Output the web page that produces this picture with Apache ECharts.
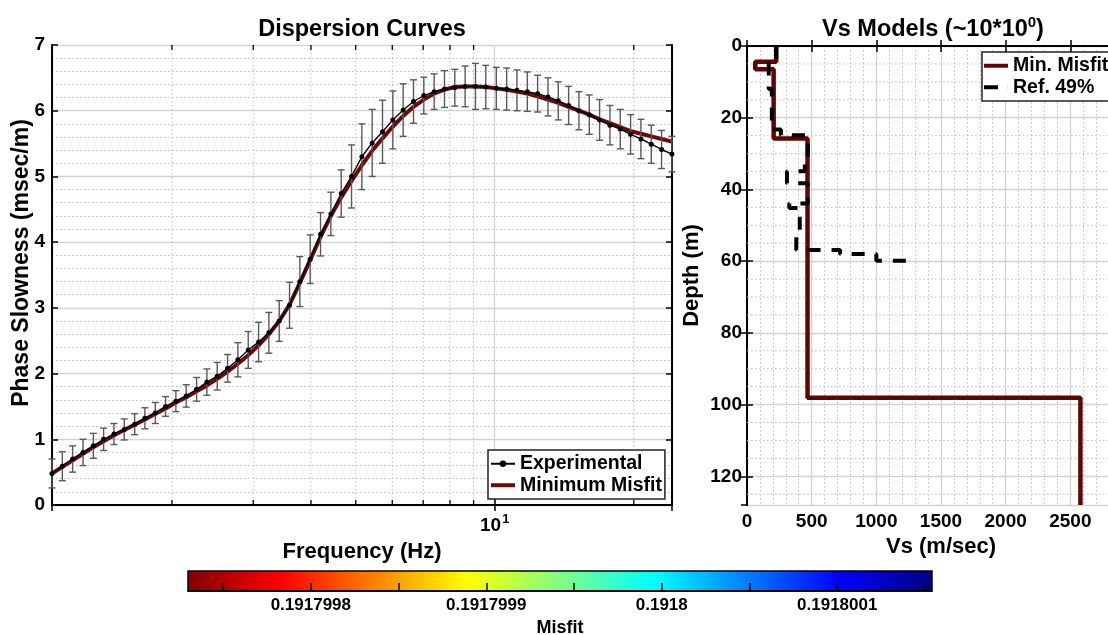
<!DOCTYPE html>
<html><head><meta charset="utf-8">
<script src="https://cdn.jsdelivr.net/npm/echarts@6/dist/echarts.min.js"></script>
<style>html,body{margin:0;padding:0;background:#fff}#c{width:1108px;height:635px}</style>
</head><body><div id="c"></div>
<script>
// ---------- data ----------
const freq = [1.100,1.158,1.219,1.284,1.352,1.423,1.498,1.577,1.661,1.748,1.841,1.938,2.040,2.148,2.262,2.381,2.507,2.640,2.779,2.926,3.081,3.243,3.415,3.595,3.785,3.985,4.196,4.418,4.651,4.897,5.156,5.428,5.715,6.017,6.335,6.670,7.022,7.393,7.784,8.195,8.628,9.084,9.564,10.079,10.612,11.172,11.763,12.384,13.039,13.728,14.454,15.217,16.022,16.868,17.760,18.698,19.686,20.727,21.822,22.975,24.190];
const slowExp = [0.48,0.59,0.70,0.80,0.90,1.00,1.08,1.15,1.23,1.32,1.40,1.50,1.58,1.66,1.76,1.87,1.96,2.08,2.21,2.36,2.48,2.62,2.80,3.04,3.40,3.74,4.12,4.43,4.74,5.00,5.30,5.51,5.68,5.86,6.01,6.14,6.23,6.29,6.33,6.35,6.37,6.37,6.36,6.34,6.33,6.31,6.29,6.26,6.21,6.15,6.08,6.00,5.94,5.86,5.78,5.72,5.64,5.57,5.49,5.41,5.34];
const slowErr = [0.22,0.22,0.20,0.20,0.19,0.17,0.16,0.16,0.16,0.16,0.16,0.15,0.16,0.17,0.18,0.20,0.21,0.21,0.26,0.28,0.30,0.31,0.31,0.35,0.38,0.37,0.33,0.33,0.36,0.48,0.50,0.51,0.48,0.44,0.40,0.33,0.28,0.27,0.28,0.28,0.31,0.35,0.33,0.32,0.32,0.31,0.30,0.28,0.29,0.29,0.29,0.29,0.30,0.31,0.30,0.30,0.30,0.30,0.29,0.29,0.27];
const slowFit = [0.48,0.58,0.68,0.78,0.88,0.97,1.06,1.14,1.22,1.30,1.39,1.47,1.56,1.64,1.73,1.82,1.92,2.03,2.15,2.28,2.43,2.60,2.80,3.05,3.38,3.73,4.08,4.40,4.68,4.93,5.17,5.39,5.58,5.76,5.92,6.06,6.17,6.26,6.32,6.36,6.37,6.37,6.36,6.34,6.32,6.29,6.26,6.22,6.17,6.12,6.06,6.00,5.94,5.87,5.81,5.75,5.69,5.65,5.61,5.57,5.53];
const freqMinorGrid = [2,3,4,5,6,7,8,9,20];

const fitTop = [0, 4.4, 6.5, 25.8, 98.1];
const fitVs  = [226, 64, 206, 468, 2578];
const fitBottom = 128;
const refTop = [0, 4.5, 12, 21.5, 23.3, 24.9, 31.5, 34.9, 38.3, 43.9, 45.2, 51.5, 56.9, 58.0, 59.9];
const refVs  = [226, 168, 192, 215, 262, 470, 447, 309, 470, 327, 408, 381, 720, 1000, 1260];
const refBottom = 61.6;
const depthMinorGrid = [5,10,15,25,30,35,45,50,55,65,70,75,85,90,95,105,110,115,125];

const misfitMin = 0.19179973, misfitMax = 0.191800154;
const misfitTicks = [0.19179975,0.1917998,0.19179985,0.1917999,0.19179995,0.1918,0.19180005,0.1918001,0.19180015];
const misfitLabels = [0.1917998,0.1917999,0.1918,0.1918001];

// ---------- helpers ----------
function steps(tops, vs, bottom){
  const pts=[];
  for(let i=0;i<tops.length;i++){
    pts.push([vs[i], tops[i]]);
    pts.push([vs[i], i<tops.length-1 ? tops[i+1] : bottom]);
  }
  return pts;
}
const FONT = '"Liberation Sans", Arial, Helvetica, sans-serif';
const AX = {show:true, lineStyle:{color:'#000', width:2}};
const TICK = {show:true, inside:true, length:6, lineStyle:{color:'#000', width:1.5}};
const LAB = {color:'#000', fontWeight:'bold', fontSize:19, fontFamily:FONT};
const NAME = {color:'#000', fontWeight:'bold', fontSize:22, fontFamily:FONT};
const MAJ = {show:true, lineStyle:{color:'#d2d2d2', width:1.3}};
const MIN = {show:true, lineStyle:{color:'#bdbdbd', width:1, type:[1.5,2.5]}};
const LEGTXT = {color:'#000', fontWeight:'bold', fontSize:19.5, fontFamily:FONT, lineHeight:21.5};
const ICON_LINE = 'path://M0,0h24v4h-24Z';
const ICON_DASH = 'path://M0,0h14v4h-14Z M23.9,0h0.1v4h-0.1Z';

const chart = echarts.init(document.getElementById('c'));
const jet = new echarts.graphic.LinearGradient(0,0,1,0,[
  {offset:0,color:'#800000'},{offset:0.125,color:'#ff0000'},{offset:0.375,color:'#ffff00'},
  {offset:0.625,color:'#00ffff'},{offset:0.875,color:'#0000ff'},{offset:1,color:'#000080'}]);

const option = {
  animation:false,
  backgroundColor:'#fff',
  textStyle:{fontFamily:FONT},
  graphic:[
    {type:'text', x:362, y:30, style:{text:'Dispersion Curves', font:'bold 23.5px '+FONT, fill:'#000', align:'center', verticalAlign:'middle'}},
    {type:'text', x:933, y:30, style:{text:'{a|Vs Models (~10*10}{s|0}{a|)}', align:'center', verticalAlign:'middle', fill:'#000',
      rich:{a:{font:'bold 23.5px '+FONT, fill:'#000'}, s:{font:'bold 15px '+FONT, fill:'#000', padding:[0,0,14,0]}}}},
    {type:'text', x:22, y:263, rotation:Math.PI/2, style:{text:'Phase Slowness (msec/m)', font:'bold 23px '+FONT, fill:'#000', align:'center', verticalAlign:'middle'}}
  ],
  grid:[
    {left:52, right:436, top:45, bottom:130, outerBoundsMode:'none'},
    {left:747, right:-27, top:46, bottom:130, outerBoundsMode:'none'},
    {left:188, right:176, top:571, bottom:44, outerBoundsMode:'none'}
  ],
  legend:[
    {data:[{name:'Experimental'},{name:'Minimum Misfit', icon:ICON_LINE}], orient:'vertical', left:488, top:450, itemWidth:24, itemHeight:8, itemGap:0,
     padding:[3,3,3,2], borderColor:'#222', borderWidth:1.5, backgroundColor:'#fff', selectedMode:false, textStyle:LEGTXT},
    {data:[{name:'Min. Misfit', icon:ICON_LINE},{name:'Ref. 49%', icon:ICON_DASH}], orient:'vertical', left:982, top:52, itemWidth:24, itemHeight:8, itemGap:0,
     padding:[3,6,3,2], borderColor:'#222', borderWidth:1.5, backgroundColor:'#fff', selectedMode:false, textStyle:LEGTXT}
  ],
  xAxis:[
    {type:'log', logBase:10, gridIndex:0, min:1.1, max:24.2, position:'bottom', axisLine:AX, axisTick:TICK,
     axisLabel:{margin:8, formatter:v=> Math.abs(v-10)<0.01 ? '{a|10}{s|1}' : '',
       rich:{a:{fontWeight:'bold', fontSize:19, fontFamily:FONT, color:'#000'}, s:{fontWeight:'bold', fontSize:13, fontFamily:FONT, color:'#000', padding:[0,0,12,1]}}},
     splitLine:MAJ, name:'Frequency (Hz)', nameLocation:'middle', nameGap:36, nameTextStyle:NAME, nameMoveOverlap:false},
    {type:'log', logBase:10, gridIndex:0, min:1.1, max:24.2, position:'top', axisLine:AX, axisTick:TICK, axisLabel:{show:false}, splitLine:{show:false}},
    {type:'value', gridIndex:1, min:0, max:3000, interval:500, position:'bottom', axisLine:AX, axisTick:TICK,
     axisLabel:Object.assign({margin:7, formatter:v=>String(v)}, LAB), splitLine:MAJ, minorTick:{show:false, splitNumber:5}, minorSplitLine:MIN,
     name:'Vs (m/sec)', nameLocation:'middle', nameGap:31, nameTextStyle:NAME, nameMoveOverlap:false},
    {type:'value', gridIndex:1, min:0, max:3000, interval:500, position:'top', axisLine:AX, axisTick:TICK, axisLabel:{show:false}, splitLine:{show:false}},
    {type:'value', gridIndex:2, min:misfitMin, max:misfitMax, position:'bottom', z:10, axisLine:{show:true, lineStyle:{color:'#000', width:1.5}},
     axisTick:{show:true, inside:true, length:8, lineStyle:{color:'#000', width:1.5}, customValues:misfitTicks},
     axisLabel:{customValues:misfitLabels, margin:6, color:'#000', fontWeight:'bold', fontSize:17, fontFamily:FONT, formatter:v=>String(+(+v).toPrecision(7))},
     splitLine:{show:false}, name:'Misfit', nameLocation:'middle', nameGap:28, nameTextStyle:{color:'#000', fontWeight:'bold', fontSize:18, fontFamily:FONT}, nameMoveOverlap:false}
  ],
  yAxis:[
    {type:'value', gridIndex:0, min:0, max:7, interval:1, position:'left', axisLine:AX, axisTick:TICK, axisLabel:Object.assign({margin:7}, LAB),
     splitLine:MAJ, minorTick:{show:false, splitNumber:5}, minorSplitLine:MIN},
    {type:'value', gridIndex:0, min:0, max:7, interval:1, position:'right', axisLine:AX, axisTick:TICK, axisLabel:{show:false}, splitLine:{show:false}},
    {type:'value', gridIndex:1, min:0, max:128, interval:20, inverse:true, position:'left', axisLine:AX, axisTick:TICK,
     axisLabel:Object.assign({margin:5, showMaxLabel:false}, LAB), splitLine:MAJ,
     name:'Depth (m)', nameLocation:'middle', nameGap:44, nameTextStyle:NAME, nameMoveOverlap:false},
    {type:'value', gridIndex:1, min:0, max:128, interval:20, inverse:true, position:'right', axisLine:AX, axisTick:TICK, axisLabel:{show:false}, splitLine:{show:false}},
    {type:'value', gridIndex:2, min:0, max:1, show:false}
  ],
  series:[
    {type:'custom', xAxisIndex:0, yAxisIndex:0, z:1, silent:true, data:freqMinorGrid.map(v=>[v,0]), encode:{x:0,y:1},
     renderItem:function(params, api){
       const cs = params.coordSys; const x = api.coord([api.value(0), 0])[0];
       return {type:'group', children:[
         {type:'line', shape:{x1:x,y1:cs.y,x2:x,y2:cs.y+cs.height}, style:{stroke:'#bdbdbd', lineWidth:1, lineDash:[1.5,2.5]}},
         {type:'line', shape:{x1:x,y1:cs.y+cs.height,x2:x,y2:cs.y+cs.height-5}, style:{stroke:'#000', lineWidth:1.3}},
         {type:'line', shape:{x1:x,y1:cs.y,x2:x,y2:cs.y+5}, style:{stroke:'#000', lineWidth:1.3}}]};
     }},
    {name:'Minimum Misfit', type:'line', xAxisIndex:0, yAxisIndex:0, z:2, symbol:'none',
     data:freq.map((f,i)=>[f, slowFit[i]]), lineStyle:{color:'#6d0808', width:4}, itemStyle:{color:'#6d0808'}},
    {type:'custom', xAxisIndex:0, yAxisIndex:0, z:3, silent:true,
     data:freq.map((f,i)=>[f, slowExp[i]-slowErr[i], slowExp[i]+slowErr[i]]), encode:{x:0, y:[1,2]},
     renderItem:function(params, api){
       const t = api.coord([api.value(0), api.value(2)]); const b = api.coord([api.value(0), api.value(1)]);
       const c = 3.5, st = {stroke:'#595959', lineWidth:1.4};
       return {type:'group', children:[
         {type:'line', shape:{x1:t[0],y1:t[1],x2:b[0],y2:b[1]}, style:st},
         {type:'line', shape:{x1:t[0]-c,y1:t[1],x2:t[0]+c,y2:t[1]}, style:st},
         {type:'line', shape:{x1:b[0]-c,y1:b[1],x2:b[0]+c,y2:b[1]}, style:st}]};
     }},
    {name:'Experimental', type:'line', xAxisIndex:0, yAxisIndex:0, z:4, symbol:'circle', symbolSize:5, showAllSymbol:true,
     data:freq.map((f,i)=>[f, slowExp[i]]), lineStyle:{color:'#000', width:1.4}, itemStyle:{color:'#000'}},
    {type:'custom', xAxisIndex:2, yAxisIndex:2, z:1, silent:true, data:depthMinorGrid.map(d=>[0,d]), encode:{x:0,y:1},
     renderItem:function(params, api){
       const cs = params.coordSys; const y = api.coord([0, api.value(1)])[1];
       return {type:'line', shape:{x1:cs.x,y1:y,x2:cs.x+cs.width,y2:y}, style:{stroke:'#bdbdbd', lineWidth:1, lineDash:[1.5,2.5]}};
     }},
    {name:'Min. Misfit', type:'line', xAxisIndex:2, yAxisIndex:2, z:3, symbol:'none',
     data:steps(fitTop, fitVs, fitBottom), lineStyle:{color:'#5e0606', width:4.5}, itemStyle:{color:'#5e0606'}},
    {name:'Ref. 49%', type:'line', xAxisIndex:2, yAxisIndex:2, z:4, symbol:'none',
     data:steps(refTop, refVs, refBottom), lineStyle:{color:'#000', width:4, type:[13,11], cap:'butt'}, itemStyle:{color:'#000'}},
    {type:'custom', xAxisIndex:4, yAxisIndex:4, z:2, silent:true, data:[[misfitMin,0]], encode:{x:0,y:1},
     renderItem:function(params, api){
       const p0 = api.coord([misfitMin, 0]), p1 = api.coord([misfitMax, 1]);
       return {type:'rect', shape:{x:p0[0], y:p1[1], width:p1[0]-p0[0], height:p0[1]-p1[1]}, style:{fill:jet, stroke:'#000', lineWidth:1.5}};
     }}
  ]
};
chart.setOption(option);
</script></body></html>
